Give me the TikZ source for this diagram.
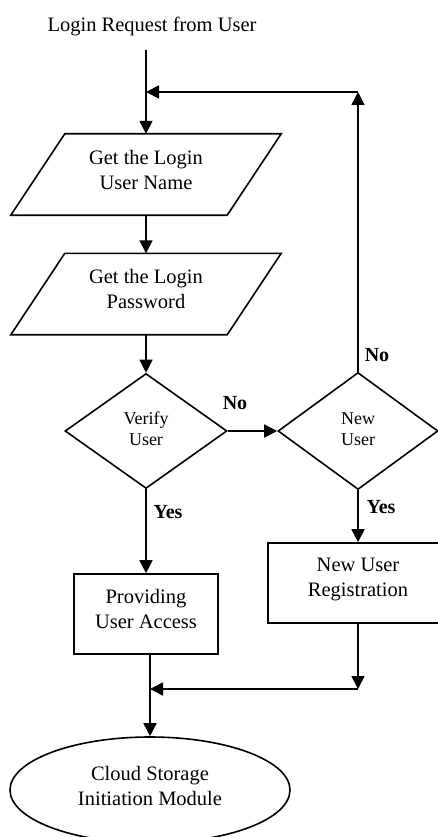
\documentclass[tikz,border=0pt]{standalone}
\usepackage{fontspec}
\setmainfont{Liberation Serif}
\usetikzlibrary{arrows.meta,shapes.geometric,calc}
\begin{document}
\begin{tikzpicture}[x=1pt,y=-1pt,
  line/.style={line width=1.6pt},
  arr/.style={line width=1.6pt,-{Triangle[length=13pt,width=13pt]}},
  maintext/.style={font=\fontsize{20.5}{25}\selectfont, align=center, inner sep=0pt},
  smalltext/.style={font=\fontsize{18}{21}\selectfont, align=center, inner sep=0pt},
  para/.style={minimum width=162pt, minimum height=81pt, inner sep=0pt},
  dia/.style={draw, line width=1.6pt, diamond, inner sep=0pt},
  box/.style={draw, line width=1.6pt, rectangle, inner sep=0pt},
  lbl/.style={font=\fontsize{20}{24}\selectfont\bfseries}
]
\useasboundingbox (0,0) rectangle (437,837);

\node[maintext] (title) at (152,26) {Login Request from User};
\coordinate (start) at (146,50);

\node[para] (p1) at (146,174.5) {};
\draw[line] (p1.north west) -- ($(p1.north east)+(54,0)$) -- (p1.south east) -- ($(p1.south west)+(-54,0)$) -- cycle;
\node[maintext] (p1t) at ($(p1.center)+(0,-5)$) {Get the Login\\User Name};

\node[para] (p2) at (146,294) {};
\draw[line] (p2.north west) -- ($(p2.north east)+(54,0)$) -- (p2.south east) -- ($(p2.south west)+(-54,0)$) -- cycle;
\node[maintext] (p2t) at ($(p2.center)+(0,-5.5)$) {Get the Login\\Password};

\node[dia, minimum width=162pt, minimum height=115pt] (v) at (146,431) {};
\node[smalltext] (vt) at ($(v.center)+(0,-2)$) {Verify\\User};
\node[dia, minimum width=160pt, minimum height=117pt] (n) at (358,431) {};
\node[smalltext] (nt) at ($(n.center)+(0,-1.5)$) {New\\User};

\node[box, minimum width=144pt, minimum height=80pt] (a) at (146,614) {};
\node[maintext] (at) at ($(a.center)+(0,-5.5)$) {Providing\\User Access};
\node[box, minimum width=180pt, minimum height=80pt] (r) at (358,583) {};
\node[maintext] (rt) at ($(r.center)+(0,-3.5)$) {New User\\Registration};

\node[draw, line width=1.6pt, ellipse, minimum width=280pt, minimum height=106pt, inner sep=0pt] (e) at (150,790) {};
\node[maintext] (et) at ($(e.center)+(0,-4)$) {Cloud Storage\\Initiation Module};

\coordinate (fb) at (358,92);
\coordinate (j1) at (146,92);
\coordinate (mj) at (358,689);
\coordinate (m) at (150,689);

\draw[arr] (start) -- (p1.north);
\draw[arr] (p1.south) -- (p2.north);
\draw[arr] (p2.south) -- (v.north);
\draw[arr] (v.east) -- (n.west);
\draw[arr] (v.south) -- (a.north);
\draw[arr] (n.south) -- (r.north);
\draw[arr] (n.north) -- (fb);
\draw[arr] (fb) -- (j1);
\draw[arr] (r.south) -- (mj);
\draw[arr] (mj) -- (m);
\draw[arr] (a.south -| m) -- (e.north);

\node[lbl] (lno1) at (235,403) {No};
\node[lbl] (lno2) at (377,355) {No};
\node[lbl] (lyes1) at (168,512) {Yes};
\node[lbl] (lyes2) at (381,507) {Yes};
\end{tikzpicture}
\end{document}
